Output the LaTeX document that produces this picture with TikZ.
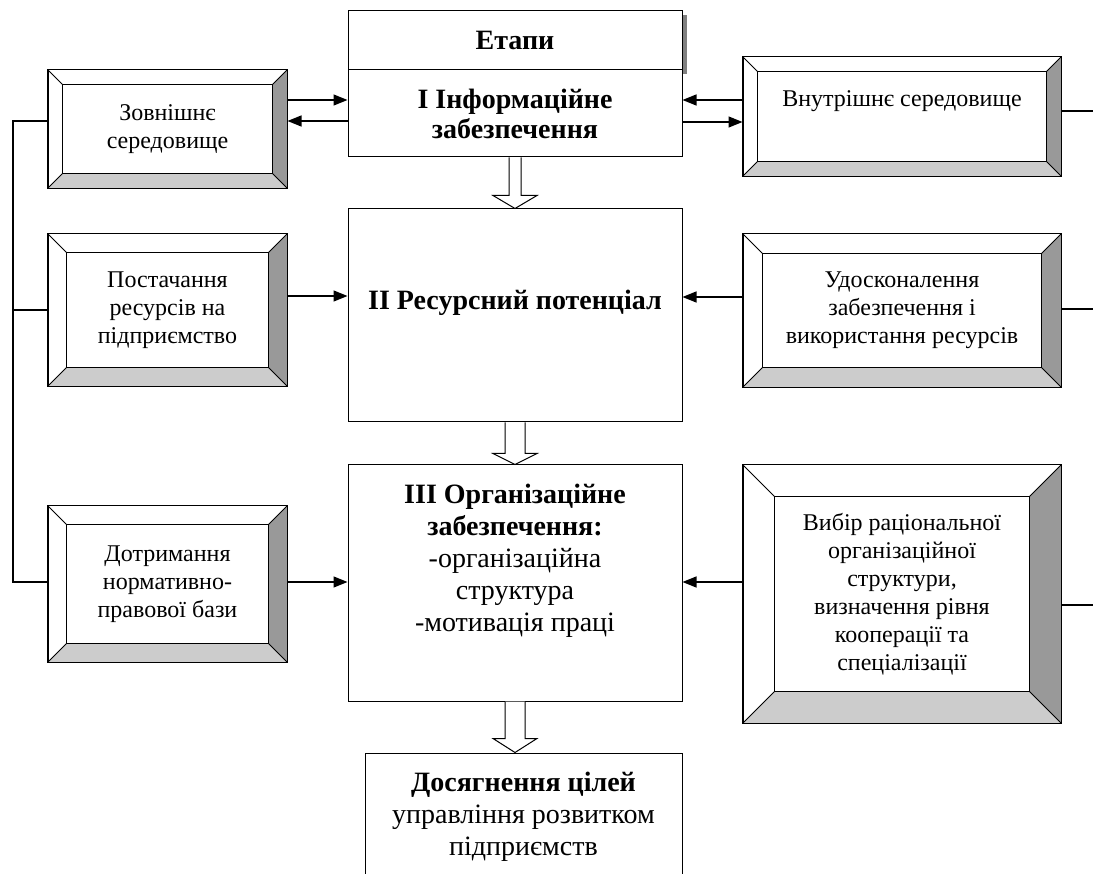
\documentclass[tikz,border=0pt]{standalone}
\usepackage{fontspec}
\setmainfont{Liberation Serif}
\usetikzlibrary{arrows.meta,shadows}

\tikzset{
  stage/.style={draw, line width=1pt, fill=white, minimum width=334pt, inner sep=0pt,
    align=center, font=\fontsize{28}{30}\selectfont\bfseries},
  side/.style={draw, line width=1pt, inner sep=0pt, align=center,
    font=\fontsize{24}{28}\selectfont},
  bevR/.style={fill=black!40},
  bevB/.style={fill=black!20},
  arr/.style={line width=1.3pt, -{Triangle[length=14pt,width=11pt]}},
  bus/.style={line width=1.5pt},
  hollowarr/.style={line width=1pt, fill=white},
}

% bevelled frame round a node: #1 node name, #2 bevel width
\newcommand{\bevel}[2]{%
  \fill[bevR] (#1.north east) -- (#1.south east) -- ([xshift=-#2pt,yshift=#2pt]#1.south east)
    -- ([xshift=-#2pt,yshift=-#2pt]#1.north east) -- cycle;
  \fill[bevB] (#1.south west) -- (#1.south east) -- ([xshift=-#2pt,yshift=#2pt]#1.south east)
    -- ([xshift=#2pt,yshift=#2pt]#1.south west) -- cycle;
  \draw[line width=1pt] ([xshift=#2pt,yshift=-#2pt]#1.north west) rectangle ([xshift=-#2pt,yshift=#2pt]#1.south east);
  \foreach \c/\dx/\dy in {north west/1/-1, north east/-1/-1, south east/-1/1, south west/1/1}
    \draw[line width=1pt] (#1.\c) -- ([xshift=\dx*#2pt,yshift=\dy*#2pt]#1.\c);
  \draw[line width=1.2pt] (#1.north west) rectangle (#1.south east);
}

% hollow block arrow: #1 from, #2 to, #3 half shaft, #4 head height
\newcommand{\hollow}[4]{%
  \coordinate (hbase) at (#1.south);
  \coordinate (htip) at (#1.south |- #2.north);
  \draw[hollowarr] ([xshift=-#3pt]hbase) -- ([xshift=-#3pt,yshift=#4pt]htip)
    -- ([xshift=-22pt,yshift=#4pt]htip) -- (htip) -- ([xshift=22pt,yshift=#4pt]htip)
    -- ([xshift=#3pt,yshift=#4pt]htip) -- ([xshift=#3pt]hbase);
}

\begin{document}
\begin{tikzpicture}[x=1pt, y=-1pt]
  \useasboundingbox (0,0) rectangle (1093,874);
  \clip (0,0) rectangle (1093,874);

  % Stages (centre column)
  \node[stage, minimum height=59pt,
    drop shadow={shadow xshift=5pt, shadow yshift=-4pt, fill=black!50, opacity=1}] (etapy) at (515,40.5) {Етапи};
  \node[stage, minimum height=87pt] (stage1) at (515,113.5) {I Інформаційне\\забезпечення};
  \node[stage, minimum height=213pt] (stage2) at (515,315.5) {II Ресурсний потенціал\\[2pt]\mbox{}};
  \node[stage, minimum height=236pt, font=\fontsize{28}{32}\selectfont] (stage3) at (515,583)
    {\textbf{III Організаційне}\\\textbf{забезпечення:}\\-організаційна\\структура\\-мотивація праці\\[18pt]\mbox{}};
  \node[stage, minimum width=317pt, minimum height=154pt, font=\fontsize{28}{32}\selectfont] (goal) at (523.5,830)
    {\textbf{Досягнення цілей}\\управління розвитком\\підприємств\\\mbox{}};

  % Left column
  \node[side, minimum width=239pt, minimum height=118pt] (ext) at (167.5,129) {Зовнішнє\\середовище};
  \bevel{ext}{15}
  \node[side, minimum width=239pt, minimum height=152pt] (supply) at (167.5,310) {Постачання\\ресурсів на\\підприємство};
  \bevel{supply}{19}
  \node[side, minimum width=239pt, minimum height=156pt] (law) at (167.5,584) {Дотримання\\нормативно-\\правової бази};
  \bevel{law}{19}

  % Right column
  \node[side, minimum width=318pt, minimum height=119pt] (intern) at (902,116.5) {Внутрішнє середовище\\[8pt]\mbox{}};
  \bevel{intern}{15}
  \node[side, minimum width=318pt, minimum height=153pt] (improve) at (902,310.5) {Удосконалення\\забезпечення і\\використання ресурсів};
  \bevel{improve}{20}
  \node[side, minimum width=318pt, minimum height=258pt] (choice) at (902,594) {Вибір раціональної\\організаційної\\структури,\\визначення рівня\\кооперації та\\спеціалізації};
  \bevel{choice}{32}

  % Block arrows between stages
  \hollow{stage1}{stage2}{6}{13}
  \hollow{stage2}{stage3}{10}{11}
  \hollow{stage3}{goal}{10}{14}

  % Arrows into the stages
  \draw[arr] ([yshift=29pt]ext.east) -- ([yshift=29pt]ext.east -| stage1.west);
  \draw[arr] ([yshift=8pt]ext.east -| stage1.west) -- ([yshift=8pt]ext.east);
  \draw[arr] ([yshift=16.5pt]intern.west) -- ([yshift=16.5pt]intern.west -| stage1.east);
  \draw[arr] ([yshift=-5.5pt]intern.west -| stage1.east) -- ([yshift=-5.5pt]intern.west);
  \draw[arr] ([yshift=14pt]supply.east) -- ([yshift=14pt]supply.east -| stage2.west);
  \draw[arr] ([yshift=13.5pt]improve.west) -- ([yshift=13.5pt]improve.west -| stage2.east);
  \draw[arr] ([yshift=2pt]law.east) -- ([yshift=2pt]law.east -| stage3.west);
  \draw[arr] ([yshift=12pt]choice.west) -- ([yshift=12pt]choice.west -| stage3.east);

  % Left bus
  \coordinate (busL) at (13,0);
  \draw[bus] ([yshift=8pt]ext.west) -- ([yshift=8pt]ext.west -| busL) |- ([yshift=2pt]law.west);
  \draw[bus] (supply.west) -- (supply.west -| busL);

  % Right stubs
  \coordinate (edgeR) at (1100,0);
  \draw[bus] ([yshift=5.5pt]intern.east) -- ([yshift=5.5pt]intern.east -| edgeR);
  \draw[bus] ([yshift=1.5pt]improve.east) -- ([yshift=1.5pt]improve.east -| edgeR);
  \draw[bus] ([yshift=-11pt]choice.east) -- ([yshift=-11pt]choice.east -| edgeR);
\end{tikzpicture}
\end{document}
